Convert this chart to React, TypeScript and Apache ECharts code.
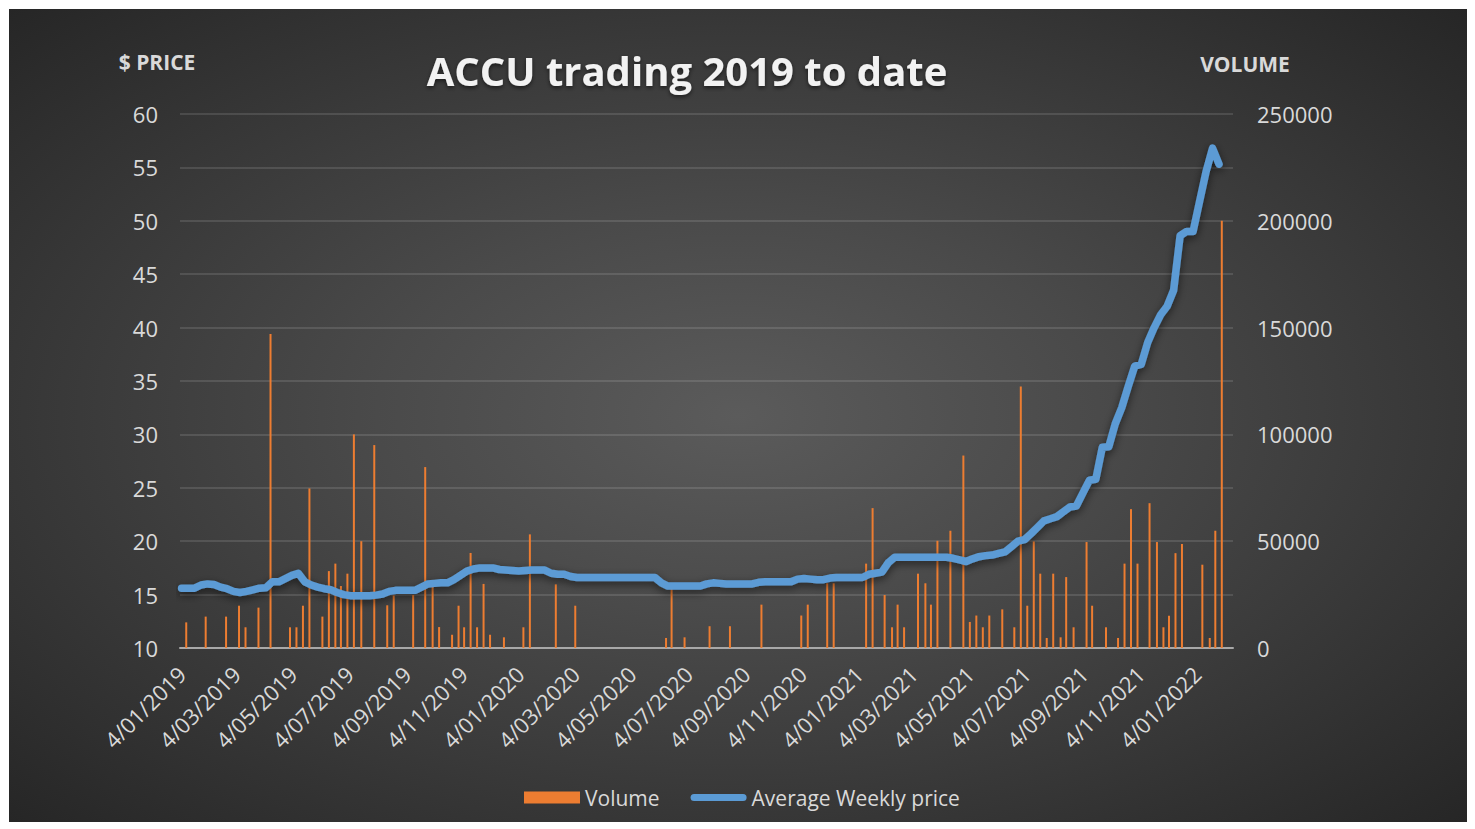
import React, { useEffect, useRef } from 'react';
import * as echarts from 'echarts';

const FONT = "'Open Sans', 'DejaVu Sans', sans-serif";

// Weekly average price, one value per week starting 4/01/2019
const START_DATE = '2019-01-04';
const priceWeekly = [
  15.6, 15.6, 15.6, 15.9, 16.0, 15.95, 15.7, 15.55, 15.3, 15.2,
  15.3, 15.45, 15.6, 15.65, 16.2, 16.2, 16.5, 16.8, 17.0, 16.2,
  15.9, 15.7, 15.55, 15.45, 15.2, 15.0, 14.9, 14.9, 14.9, 14.9,
  14.95, 15.05, 15.3, 15.4, 15.4, 15.4, 15.4, 15.7, 16.0, 16.05,
  16.1, 16.1, 16.4, 16.8, 17.2, 17.4, 17.5, 17.5, 17.5, 17.35,
  17.3, 17.25, 17.2, 17.25, 17.3, 17.3, 17.3, 17.0, 16.9, 16.9,
  16.7, 16.6, 16.6, 16.6, 16.6, 16.6, 16.6, 16.6, 16.6, 16.6,
  16.6, 16.6, 16.6, 16.6, 16.1, 15.8, 15.8, 15.8, 15.8, 15.8,
  15.8, 16.0, 16.1, 16.05, 16.0, 16.0, 16.0, 16.0, 16.0, 16.15,
  16.2, 16.2, 16.2, 16.2, 16.2, 16.45, 16.5, 16.45, 16.4, 16.4,
  16.55, 16.6, 16.6, 16.6, 16.6, 16.6, 16.9, 17.0, 17.1, 18.0,
  18.5, 18.5, 18.5, 18.5, 18.5, 18.5, 18.5, 18.5, 18.5, 18.4,
  18.25, 18.1, 18.35, 18.55, 18.65, 18.7, 18.85, 19.0, 19.5, 20.0,
  20.15, 20.7, 21.3, 21.9, 22.1, 22.3, 22.75, 23.2, 23.3, 24.5,
  25.7, 25.8, 28.8, 28.85, 31.0, 32.5, 34.5, 36.4, 36.55, 38.6,
  40.0, 41.2, 42.0, 43.5, 48.6, 49.0, 49.0, 51.8, 54.6, 56.8, 55.3,
];

// Volume traded, by trade date
const volumeDates = [
  '2019-01-09', '2019-01-30', '2019-02-21', '2019-03-07', '2019-03-14', '2019-03-28',
  '2019-04-10', '2019-05-01', '2019-05-08', '2019-05-15', '2019-05-22', '2019-06-05',
  '2019-06-12', '2019-06-19', '2019-06-25', '2019-07-02', '2019-07-09', '2019-07-17',
  '2019-07-31', '2019-08-14', '2019-08-21', '2019-09-11', '2019-09-24', '2019-10-02',
  '2019-10-09', '2019-10-23', '2019-10-30', '2019-11-05', '2019-11-12', '2019-11-19',
  '2019-11-26', '2019-12-03', '2019-12-18', '2020-01-08', '2020-01-15', '2020-02-12',
  '2020-03-04', '2020-06-10', '2020-06-16', '2020-06-30', '2020-07-27', '2020-08-18',
  '2020-09-21', '2020-11-03', '2020-11-10', '2020-12-01', '2020-12-08', '2021-01-12',
  '2021-01-19', '2021-02-01', '2021-02-09', '2021-02-15', '2021-02-22', '2021-03-09',
  '2021-03-17', '2021-03-23', '2021-03-30', '2021-04-13', '2021-04-27', '2021-05-04',
  '2021-05-11', '2021-05-18', '2021-05-25', '2021-06-08', '2021-06-21', '2021-06-28',
  '2021-07-05', '2021-07-12', '2021-07-19', '2021-07-26', '2021-08-02', '2021-08-10',
  '2021-08-16', '2021-08-24', '2021-09-07', '2021-09-13', '2021-09-28', '2021-10-11',
  '2021-10-18', '2021-10-25', '2021-11-01', '2021-11-14', '2021-11-22', '2021-11-29',
  '2021-12-05', '2021-12-12', '2021-12-19', '2022-01-10', '2022-01-18', '2022-01-24',
  '2022-01-31',
];
const volumeValues = [
  12000, 14700, 14700, 19800, 9700, 18900,
  147000, 9700, 9700, 19800, 74700, 14700,
  36000, 39500, 29000, 34800, 100000, 50000,
  95000, 20000, 24600, 24800, 84700, 29000,
  9800, 6200, 19800, 9700, 44500, 9700,
  30000, 6200, 5000, 9700, 53200, 29800,
  19800, 4700, 28100, 5000, 10200, 10200,
  20300, 15200, 20300, 30300, 30300, 39500,
  65500, 24800, 9700, 20300, 9700, 34800,
  30300, 20300, 50200, 54900, 90100, 12200,
  15200, 9700, 15200, 18100, 9700, 122400,
  19800, 49900, 34800, 4700, 34800, 5000,
  33200, 9700, 49600, 19800, 9700, 4700,
  39500, 65000, 39500, 67800, 49600, 9700,
  15100, 44400, 48700, 39000, 4700, 54900,
  200000,
];

// Date-axis tick labels
const xTickDates = [
  '2019-01-04', '2019-03-04', '2019-05-04', '2019-07-04', '2019-09-04', '2019-11-04',
  '2020-01-04', '2020-03-04', '2020-05-04', '2020-07-04', '2020-09-04', '2020-11-04',
  '2021-01-04', '2021-03-04', '2021-05-04', '2021-07-04', '2021-09-04', '2021-11-04',
  '2022-01-04',
];

const DAY = 86400000;
function parseDay(s: string, addDays = 0): number {
  const [y, m, d] = s.split('-').map(Number);
  return new Date(y, m - 1, d + addDays).getTime();
}
function fmtDate(v: number): string {
  const d = new Date(v);
  const mm = String(d.getMonth() + 1).padStart(2, '0');
  return `${d.getDate()}/${mm}/${d.getFullYear()}`;
}

export default function App() {
  const ref = useRef<HTMLDivElement>(null);

  useEffect(() => {
    if (!ref.current) return;
    const chart = echarts.init(ref.current, undefined, { renderer: 'svg' });
    const t0 = parseDay(START_DATE);
    const priceData = priceWeekly.map((p, i) => [parseDay(START_DATE, i * 7), p]);
    const volumeData = volumeDates.map((d, i) => [parseDay(d), volumeValues[i]]);
    const labelColor = '#d9d9d9';

    chart.setOption({
      animation: false,
      backgroundColor: 'transparent',
      textStyle: { fontFamily: FONT },
      grid: { left: 171, right: 234, top: 105, bottom: 174, containLabel: false },
      graphic: [
        {
          type: 'text', x: 678, y: 61,
          style: {
            text: 'ACCU trading 2019 to date', fill: '#f2f2f2',
            font: `bold 40px ${FONT}`, textAlign: 'center', textVerticalAlign: 'middle',
            textShadowColor: 'rgba(0,0,0,0.55)', textShadowBlur: 4, textShadowOffsetY: 2,
          },
        },
        {
          type: 'text', x: 148, y: 53,
          style: { text: '$ PRICE', fill: labelColor, font: `bold 21px ${FONT}`, textAlign: 'center', textVerticalAlign: 'middle' },
        },
        {
          type: 'text', x: 1236, y: 55,
          style: { text: 'VOLUME', fill: labelColor, font: `bold 21px ${FONT}`, textAlign: 'center', textVerticalAlign: 'middle' },
        },
      ],
      legend: {
        left: 510, top: 773,
        itemWidth: 56, itemHeight: 12, itemGap: 31,
        textStyle: { color: labelColor, fontSize: 21, fontFamily: FONT },
        data: [
          { name: 'Volume', icon: 'rect' },
          { name: 'Average Weekly price', icon: 'path://M3.5,0 H52.5 A3.5,3.5 0 0 1 52.5,7 H3.5 A3.5,3.5 0 0 1 3.5,0 Z' },
        ],
      },
      xAxis: {
        type: 'value',
        min: t0 - 1.73 * DAY,
        max: t0 + 1135.1 * DAY,
        axisLine: { show: true, lineStyle: { color: '#a8a8a8', width: 2 } },
        axisTick: { show: false },
        splitLine: { show: false },
        axisLabel: {
          customValues: xTickDates.map((d) => parseDay(d)),
          formatter: (v: number) => fmtDate(v),
          rotate: 45, margin: 22, color: labelColor, fontSize: 22, fontFamily: FONT,
          hideOverlap: false, showMinLabel: true, showMaxLabel: true,
        },
      },
      yAxis: [
        {
          type: 'value', position: 'left', min: 10, max: 60, interval: 5,
          axisLine: { show: false }, axisTick: { show: false },
          axisLabel: { color: labelColor, fontSize: 22, fontFamily: FONT, margin: 22 },
          splitLine: { show: true, lineStyle: { color: 'rgba(255,255,255,0.16)', width: 1.5 } },
        },
        {
          type: 'value', position: 'right', min: 0, max: 250000, interval: 50000,
          axisLine: { show: false }, axisTick: { show: false },
          axisLabel: {
            color: labelColor, fontSize: 22, fontFamily: FONT, margin: 24,
            formatter: (v: number) => String(v),
          },
          splitLine: { show: false },
        },
      ],
      series: [
        {
          name: 'Volume', type: 'bar', yAxisIndex: 1, data: volumeData,
          barWidth: 2, z: 2,
          itemStyle: { color: '#ED7D31' },
        },
        {
          name: 'Average Weekly price', type: 'line', yAxisIndex: 0, data: priceData,
          showSymbol: false, symbol: 'none', z: 3,
          itemStyle: { color: '#5B9BD5' },
          lineStyle: {
            color: '#5B9BD5', width: 7.5, cap: 'round', join: 'round',
            shadowColor: 'rgba(0,0,0,0.55)', shadowBlur: 8, shadowOffsetY: 3,
          },
        },
      ],
    });
    return () => chart.dispose();
  }, []);

  return (
    <div style={{ position: 'fixed', left: 0, top: 0, width: 1475, height: 829, background: '#ffffff' }}>
      <div
        ref={ref}
        style={{
          position: 'absolute', left: 9, top: 9, width: 1458, height: 813,
          background: 'radial-gradient(ellipse farthest-corner at 50% 50%, #5b5b5b 0%, #4a4a4a 35%, #262626 100%)',
        }}
      />
    </div>
  );
}
